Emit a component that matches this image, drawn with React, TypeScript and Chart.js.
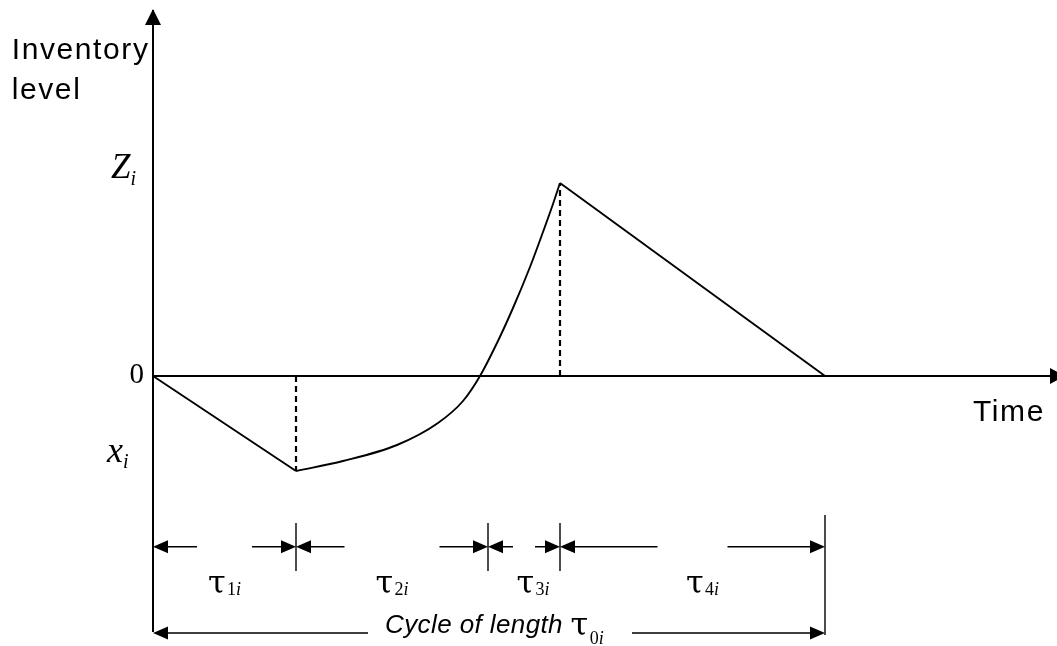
import React, { useEffect, useRef } from "react";
import { Chart, registerables } from "chart.js";

Chart.register(...registerables);

// ---- data (time units on x, inventory units on y) ----
const rampTime = [0, 14.3];
const rampLevel = [0, -9.5];
const curveTime = [14.3, 19.0, 24.4, 28.5, 31.0, 32.7, 34.4, 36.0, 37.7, 39.0, 40.0, 40.7];
const curveLevel = [-9.5, -8.5, -6.9, -4.7, -2.5, 0, 3.3, 6.8, 10.9, 14.4, 17.2, 19.3];
const depletionTime = [40.7, 67.2];
const depletionLevel = [19.3, 0];
const phaseBounds = [0, 14.3, 33.5, 40.7, 67.2];
const phaseDigits = ["1", "2", "3", "4"];
const peakLevel = 19.3;
const troughLevel = -9.5;

// ---- layout ----
const X_MIN = -15.3;
const X_MAX = 90.4;
const Y_MIN = -27;
const Y_MAX = 37.6;
const phaseGaps = [5.5, 9.5, 2.2, 7.0];
const labelNudge = [0, 0, 9, 10];

const SERIF = '"Liberation Serif", "Times New Roman", serif';
const TAU = '"DejaVu Serif", serif';
const SANS = '"Liberation Sans", Arial, sans-serif';

type Part = { t: string; font: string; dy?: number; ls?: number };

function drawParts(ctx: CanvasRenderingContext2D, parts: Part[], x: number, y: number, align: "left" | "center" | "right") {
  const widths = parts.map((p) => {
    ctx.font = p.font;
    (ctx as any).letterSpacing = (p.ls || 0) + "px";
    return ctx.measureText(p.t).width;
  });
  const total = widths.reduce((a, b) => a + b, 0);
  let cx = align === "left" ? x : align === "center" ? x - total / 2 : x - total;
  ctx.textAlign = "left";
  ctx.textBaseline = "alphabetic";
  parts.forEach((p, i) => {
    ctx.font = p.font;
    (ctx as any).letterSpacing = (p.ls || 0) + "px";
    ctx.fillText(p.t, cx, y + (p.dy || 0));
    cx += widths[i];
  });
  (ctx as any).letterSpacing = "0px";
}

function arrowHead(ctx: CanvasRenderingContext2D, tx: number, ty: number, dir: "left" | "right" | "up", len: number, half: number) {
  ctx.beginPath();
  if (dir === "left") {
    ctx.moveTo(tx, ty);
    ctx.lineTo(tx + len, ty - half);
    ctx.lineTo(tx + len, ty + half);
  } else if (dir === "right") {
    ctx.moveTo(tx, ty);
    ctx.lineTo(tx - len, ty - half);
    ctx.lineTo(tx - len, ty + half);
  } else {
    ctx.moveTo(tx, ty);
    ctx.lineTo(tx - half, ty + len);
    ctx.lineTo(tx + half, ty + len);
  }
  ctx.closePath();
  ctx.fill();
}

const diagramPlugin = {
  id: "inventoryDiagram",
  afterDatasetsDraw(chart: any) {
    const ctx: CanvasRenderingContext2D = chart.ctx;
    const xs = chart.scales.x;
    const ys = chart.scales.y;
    const X = (v: number) => xs.getPixelForValue(v);
    const Y = (v: number) => ys.getPixelForValue(v);
    const unit = X(1) - X(0);
    ctx.save();
    ctx.strokeStyle = "#000";
    ctx.fillStyle = "#000";
    ctx.setLineDash([]);

    // axes
    ctx.lineWidth = 2;
    ctx.beginPath();
    ctx.moveTo(X(0), Y(-25.6));
    ctx.lineTo(X(0), Y(36.6));
    ctx.stroke();
    arrowHead(ctx, X(0), Y(36.7), "up", 16, 8);
    ctx.beginPath();
    ctx.moveTo(X(0), Y(0));
    ctx.lineTo(X(90.5), Y(0));
    ctx.stroke();
    arrowHead(ctx, X(91.2), Y(0), "right", 15, 8);

    // dimension row
    const rowY = Y(-17.07);
    ctx.lineWidth = 1.4;
    for (let i = 1; i < phaseBounds.length - 1; i++) {
      ctx.beginPath();
      ctx.moveTo(X(phaseBounds[i]), Y(-14.7));
      ctx.lineTo(X(phaseBounds[i]), Y(-19.5));
      ctx.stroke();
    }
    const last = phaseBounds[phaseBounds.length - 1];
    ctx.beginPath();
    ctx.moveTo(X(last), Y(-13.9));
    ctx.lineTo(X(last), Y(-25.9));
    ctx.stroke();

    for (let i = 0; i < phaseBounds.length - 1; i++) {
      const a = X(phaseBounds[i]);
      const b = X(phaseBounds[i + 1]);
      const mid = (a + b) / 2;
      const g = (phaseGaps[i] * unit) / 2;
      ctx.beginPath();
      ctx.moveTo(a + 5, rowY);
      ctx.lineTo(mid - g, rowY);
      ctx.moveTo(mid + g, rowY);
      ctx.lineTo(b - 5, rowY);
      ctx.stroke();
      arrowHead(ctx, a, rowY, "left", 15, 6.5);
      arrowHead(ctx, b, rowY, "right", 15, 6.5);
      drawParts(
        ctx,
        [
          { t: "\u03C4", font: `32px ${TAU}` },
          { t: " ", font: `6px ${SERIF}` },
          { t: phaseDigits[i], font: `18px ${SERIF}`, dy: 2 },
          { t: "i", font: `italic 18px ${SERIF}`, dy: 2 },
        ],
        mid + labelNudge[i],
        Y(-21.67),
        "center"
      );
    }

    // cycle row
    const cy = Y(-25.7);
    ctx.beginPath();
    ctx.moveTo(X(0) + 5, cy);
    ctx.lineTo(X(21.5), cy);
    ctx.moveTo(X(47.9), cy);
    ctx.lineTo(X(last) - 5, cy);
    ctx.stroke();
    arrowHead(ctx, X(0), cy, "left", 15, 6.5);
    arrowHead(ctx, X(last), cy, "right", 15, 6.5);
    drawParts(
      ctx,
      [
        { t: "Cycle of length ", font: `italic 26px ${SANS}`, ls: 0.4 },
        { t: "\u03C4", font: `32px ${TAU}`, dy: 2 },
        { t: " ", font: `6px ${SERIF}` },
        { t: "0", font: `18px ${SERIF}`, dy: 11 },
        { t: "i", font: `italic 18px ${SERIF}`, dy: 11 },
      ],
      X(23.2),
      cy,
      "left"
    );

    // axis texts
    drawParts(ctx, [{ t: "Inventory", font: `30px ${SANS}`, ls: 1.6 }], X(-14.13), Y(31.67), "left");
    drawParts(ctx, [{ t: "level", font: `30px ${SANS}`, ls: 1.6 }], X(-14.13), Y(27.7), "left");
    drawParts(ctx, [{ t: "Time", font: `30px ${SANS}`, ls: 1.6 }], X(82.0), Y(-4.5), "left");
    drawParts(ctx, [{ t: "0", font: `29px ${SERIF}` }], X(-0.9), Y(0) + 7, "right");
    drawParts(
      ctx,
      [
        { t: "Z", font: `italic 35px ${SERIF}` },
        { t: "i", font: `italic 20px ${SERIF}`, dy: 7 },
      ],
      X(-4.2),
      Y(peakLevel) - 5,
      "left"
    );
    drawParts(
      ctx,
      [
        { t: "x", font: `italic 36px ${SERIF}` },
        { t: "i", font: `italic 20px ${SERIF}`, dy: 6 },
      ],
      X(-4.6),
      Y(troughLevel) - 9,
      "left"
    );
    ctx.restore();
  },
};

const pts = (xs: number[], ys: number[]) => xs.map((x, i) => ({ x, y: ys[i] }));

export default function App() {
  const ref = useRef<HTMLCanvasElement | null>(null);
  useEffect(() => {
    if (!ref.current) return;
    const solid = { borderColor: "#000", borderWidth: 1.9, pointRadius: 0, showLine: true, fill: false };
    const dashed = { borderColor: "#000", borderWidth: 2.2, pointRadius: 0, showLine: true, fill: false, borderDash: [6, 4] };
    const chart = new Chart(ref.current, {
      type: "scatter",
      data: {
        datasets: [
          { ...solid, label: "ramp", data: pts(rampTime, rampLevel), tension: 0 },
          { ...solid, label: "recovery", data: pts(curveTime, curveLevel), cubicInterpolationMode: "monotone" },
          { ...solid, label: "depletion", data: pts(depletionTime, depletionLevel), tension: 0 },
          { ...dashed, label: "trough", data: pts([rampTime[1], rampTime[1]], [0, troughLevel]) },
          { ...dashed, label: "peak", data: pts([depletionTime[0], depletionTime[0]], [0, peakLevel]) },
        ] as any,
      },
      options: {
        animation: false,
        responsive: false,
        events: [],
        layout: { padding: 0 },
        plugins: { legend: { display: false }, tooltip: { enabled: false } },
        scales: {
          x: { type: "linear", min: X_MIN, max: X_MAX, display: false },
          y: { type: "linear", min: Y_MIN, max: Y_MAX, display: false },
        },
      } as any,
      plugins: [diagramPlugin],
    });
    return () => chart.destroy();
  }, []);
  return (
    <div style={{ position: "fixed", left: 0, top: 0, width: 1057, height: 646, background: "#fff" }}>
      <canvas ref={ref} width={1057} height={646} style={{ display: "block" }} />
    </div>
  );
}
